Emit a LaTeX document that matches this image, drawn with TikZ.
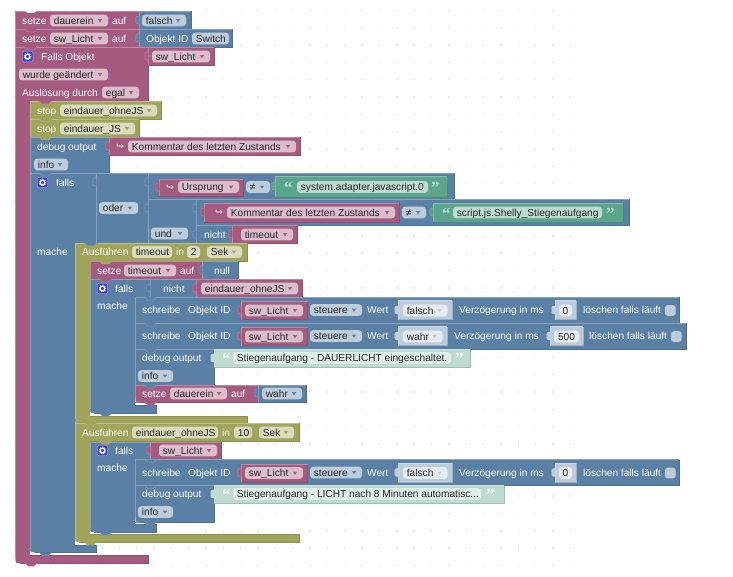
\documentclass[tikz,border=0pt]{standalone}
\usepackage{fontspec}
\setmainfont{Liberation Sans}
\newfontfamily\symf{DejaVu Sans}
\newfontfamily\quof{Liberation Serif}
\definecolor{mg}{HTML}{A55B80}
\definecolor{bl}{HTML}{5B80A5}
\definecolor{ol}{HTML}{A0A55B}
\definecolor{gr}{HTML}{5BA58C}
\definecolor{mgf}{HTML}{DBBDCC}
\definecolor{blf}{HTML}{BDCCDB}
\definecolor{olf}{HTML}{D9DBBD}
\definecolor{grf}{HTML}{BDDBD1}
\definecolor{shb}{HTML}{BDCCDB}
\definecolor{shbf}{HTML}{E6ECF2}
\definecolor{shg}{HTML}{BDDBD1}
\definecolor{shgf}{HTML}{E0EEE9}
\definecolor{ink}{HTML}{262626}
\definecolor{cogb}{HTML}{3A3FC8}
\definecolor{cogl}{HTML}{8F93E0}
\newcounter{nn}
\newcommand\blk[5]{%
  \fill[#1] (#2,#3) rectangle (#4,#5);
  \draw[#1!86!black,line width=.7] (#2,#5)--(#4,#5)--(#4,#3);
  \draw[#1!72!white,line width=.7] (#2,#5)--(#2,#3)--(#4,#3);}
% C-shaped block: #2,#3 top-left; #4 right of head; #5 head bottom; #6 spine right; #7 bar top; #8 bar right; #9 bottom
\newcommand\cblk[9]{%
  \fill[#1] (#2,#3)--(#4,#3)--(#4,#5)--(#6,#5)--(#6,#7)--(#8,#7)--(#8,#9)--({#2+4},#9) .. controls (#2,#9) .. (#2,{#9-4})--cycle;
  \draw[#1!86!black,line width=.7] ({#2+4},#9)--(#8,#9)--(#8,#7)--(#6,#7) (#6,#5)--(#4,#5)--(#4,#3);
  \draw[#1!72!white,line width=.7] (#2,{#9-4})--(#2,#3)--(#4,#3);}
\newcommand\nt[3]{%
  \fill[#1] ({#2+9.5},#3)--({#2+12.5},{#3+3})--({#2+18.5},{#3+3})--({#2+21.5},#3)--cycle;
  \draw[#1!80!white,line width=.5] ({#2+9.5},#3)--({#2+12.5},{#3+3})--({#2+18.5},{#3+3})--({#2+21.5},#3);}
\newcommand\wnt[2]{\fill[white] ({#1+9.5},#2)--({#1+12.5},{#2+2.5})--({#1+18.5},{#2+2.5})--({#1+21.5},#2)--cycle;}
\newcommand\rc[2]{\fill[white] (#1,{#2-5}) .. controls (#1,#2) .. ({#1+5},#2) -- (#1,#2) -- cycle;}
\newcommand\tabb[3]{%
  \filldraw[fill=#1,draw=#1!78!white,line width=.5,rounded corners=1] ({#2+.4},{#3-4})--({#2-3.2},{#3-3.5})--({#2-3.2},{#3+3.5})--({#2+.4},{#3+4});}
\newcommand\txt[3]{\stepcounter{nn}\node[lab] (t\thenn) at (#1,{#2+3.8}) {#3};}
\newcommand\fld[5]{% x1 x2 cy fillcolor text
  \stepcounter{nn}\fill[#4,rounded corners=3] (#1,{#3-5.8}) rectangle (#2,{#3+5.8});
  \node[lab,text=ink] (f\thenn) at ({#1+3.7},{#3+3.8}) {#5};}
\newcommand\ddf[5]{% x1 x2 cy base text
  \fld{#1}{#2}{#3}{#4f}{#5}%
  \fill[#4] ({#2-10.2},{#3-1.4})--({#2-5.8},{#3-1.4})--({#2-8},{#3+1.8})--cycle;}
\newcommand\sdd[4]{% shadow blue dropdown
  \fld{#1}{#2}{#3}{shbf}{#4}%
  \fill[shb] ({#2-10.2},{#3-1.4})--({#2-5.8},{#3-1.4})--({#2-8},{#3+1.8})--cycle;}
\newcommand\cog[2]{%
  \filldraw[fill=cogb,draw=cogl,line width=.7,rounded corners=2] (#1,{#2-5.3}) rectangle ({#1+10.6},{#2+5.3});
  \draw[white,line width=1.1] ({#1+5.3},#2) circle (2.3);
  \draw[white,line width=.9,dash pattern=on .9pt off .9pt] ({#1+5.3},#2) circle (3.3);}
\newcommand\oq[3]{\stepcounter{nn}\node[lab,text=#3,font=\quof\bfseries\fontsize{17}{17}\selectfont] (q\thenn) at (#1,{#2+7.3}) {“};}
\newcommand\cq[3]{\stepcounter{nn}\node[lab,text=#3,font=\quof\bfseries\fontsize{17}{17}\selectfont] (q\thenn) at (#1,{#2+7.3}) {”};}
\newcommand\arr[2]{\stepcounter{nn}\node[lab,font=\symf\fontsize{9.5}{10}\selectfont] (a\thenn) at (#1,{#2+3.4}) {↪};}
\newcommand\chk[2]{\fill[shb,rounded corners=2.5] (#1,{#2-5.3}) rectangle ({#1+10.6},{#2+5.3});}
% #1 top #2 cy #3 right #4 value #5 value-end #6 verz-x #7 numL #8 numR #9 number
\newcommand\schreibe[9]{%
  \pgfmathsetmacro\rb{#1+26}\pgfmathsetmacro\ua{#2-8.5}\pgfmathsetmacro\ub{#2+9.5}%
  \pgfmathsetmacro\va{#2-9.5}\pgfmathsetmacro\yf{#2+.5}\pgfmathsetmacro\vx{#5-4.5}%
  \blk{bl}{135}{#1}{#3}{\rb}
  \txt{142}{#2}{schreibe}\txt{188}{#2}{Objekt ID}
  \blk{mg}{241}{\ua}{307.5}{\ub}\tabb{mg}{241}{#2}
  \ddf{245}{303}{\yf}{mg}{sw\_Licht}
  \ddf{310}{362}{#2}{bl}{steuere}
  \txt{367}{#2}{Wert}
  \blk{shb}{398}{\va}{#5}{\ub}\tabb{shb}{398}{#2}
  \sdd{403}{\vx}{\yf}{#4}
  \txt{#6}{#2}{Verzögerung in ms}
  \blk{shb}{#7}{\va}{#8}{\ub}\tabb{shb}{#7}{#2}
  \fill[shbf,rounded corners=3] ({#7+4},{#2-5.5}) rectangle ({#8-4},{#2+6.3});
  \stepcounter{nn}\node[lab,text=ink,anchor=base] (n\thenn) at ({(#7+#8)/2},{#2+4.3}) {#9};}
\tikzset{lab/.style={anchor=base west,inner sep=0pt,text=white,font=\fontsize{10.15}{12}\selectfont}}
\begin{document}
\begin{tikzpicture}[x=1pt,y=-1pt]
\useasboundingbox (0,0) rectangle (733,577);
\fill[white] (0,0) rectangle (733,577);
% grid of dots
\foreach \i in {0,...,32}{\foreach \j in {0,...,32}{
  \fill[black!11] ({15.1+17.35*\i-.7},{10.3+17.35*\j-.7}) rectangle ++(1.4,1.4);}}
% --- top rows
\blk{mg}{15.5}{11}{139}{29}
\wnt{15.5}{10.5}
\txt{22}{20.5}{setze}\ddf{50}{108}{20.5}{mg}{dauerein}\txt{112}{20.5}{auf}
\blk{bl}{139}{11}{191}{29}\tabb{bl}{139}{20}
\ddf{142}{186}{20.5}{bl}{falsch}
\blk{mg}{15.5}{29}{139}{47}\nt{mg}{15.5}{29}
\txt{22}{38.5}{setze}\ddf{50}{108}{38.5}{mg}{sw\_Licht}\txt{112}{38.5}{auf}
\blk{bl}{139}{29}{232}{47}\tabb{bl}{139}{38}
\txt{146}{38.5}{Objekt ID}\fld{192}{229}{38.5}{blf}{Switch}
% --- Falls Objekt hat
\cblk{mg}{15.5}{47}{148}{101}{30}{555.5}{148.5}{563}
\nt{mg}{15.5}{47}\nt{mg}{15.5}{563}
\cog{22.3}{56.5}\txt{41}{56.5}{Falls Objekt}
\blk{mg}{148}{47}{214}{65}\tabb{mg}{148}{56}
\ddf{152}{210}{56.5}{mg}{sw\_Licht}
\ddf{19}{108}{74.5}{mg}{wurde geändert}
\txt{22}{92.5}{Auslösung durch}\ddf{102}{139}{92.5}{mg}{egal}
% --- stops
\blk{ol}{30}{101}{161}{119}\nt{mg}{30}{101}
\txt{37}{110.5}{stop}\ddf{60}{157}{110.5}{ol}{eindauer\_ohneJS}
\blk{ol}{30}{119}{139}{137}\nt{ol}{30}{119}
\txt{37}{128.5}{stop}\ddf{60}{135}{128.5}{ol}{eindauer\_JS}
% --- debug
\blk{bl}{30}{137}{109}{173}\nt{ol}{30}{137}
\txt{37}{146.5}{debug output}\ddf{34}{68}{164.5}{bl}{info}
\blk{mg}{109}{137}{300}{155}\tabb{mg}{109}{146}
\arr{116}{146.5}\ddf{128}{296}{146.5}{mg}{Kommentar des letzten Zustands}
% --- big falls
\cblk{bl}{30}{173}{96}{243}{75}{545.5}{96}{552.5}
\nt{bl}{30}{173}\nt{bl}{30}{552.5}\rc{30}{552.5}
\cog{37.2}{182.5}\txt{56}{182.5}{falls}\txt{37}{252}{mache}
% oder
\blk{bl}{96}{173}{148}{243}\tabb{bl}{96}{182}
\ddf{99}{138}{208}{bl}{oder}
\blk{bl}{148}{173}{454}{199}\tabb{bl}{148}{182}
\blk{mg}{159}{179}{243}{196}\tabb{mg}{159}{187}
\arr{166}{187.5}\ddf{178}{239}{187}{mg}{Ursprung}
\ddf{246}{270}{187}{bl}{≠}
\blk{gr}{275}{176}{447}{197}\tabb{gr}{275}{186}
\oq{284}{186.5}{shg}\fld{297}{428}{187}{grf}{system.adapter.javascript.0}\cq{431}{186.5}{shg}
\blk{bl}{148}{199}{196}{243}\tabb{bl}{148}{208}
\ddf{151}{188}{233.5}{bl}{und}
\blk{bl}{196}{199}{629}{225}\tabb{bl}{196}{208}
\blk{mg}{204}{203}{399}{222}\tabb{mg}{204}{212}
\arr{215}{212.5}\ddf{227}{395}{212.5}{mg}{Kommentar des letzten Zustands}
\ddf{402}{426}{212.5}{bl}{≠}
\blk{gr}{433}{203}{623}{222}\tabb{gr}{433}{212}
\oq{442}{212}{shg}\fld{453}{602}{212.5}{grf}{script.js.Shelly\_Stiegenaufgang}\cq{606}{212}{shg}
\blk{bl}{196}{225}{232}{243}\tabb{bl}{196}{234}
\txt{204}{234.5}{nicht}
\blk{mg}{232}{225.5}{297}{243}\tabb{mg}{232}{234}
\ddf{241}{293}{234.5}{mg}{timeout}
% --- Ausführen 1
\cblk{ol}{75}{243}{247}{261}{90}{416}{247}{423}
\nt{bl}{75}{243}
\txt{82}{252}{Ausführen}\fld{132}{172}{252}{olf}{timeout}\txt{176}{252}{in}\fld{187}{200}{252}{olf}{2}
\ddf{207}{242}{252}{ol}{Sek}
\blk{mg}{90}{261}{202}{279}\nt{ol}{90}{261}
\txt{97}{271}{setze}\ddf{124}{176}{270.5}{mg}{timeout}\txt{180}{271}{auf}
\blk{bl}{202}{261.5}{238}{279}\tabb{bl}{202}{270}\txt{214}{271}{null}
% inner falls 1
\cblk{bl}{90}{279}{196}{297}{135}{405}{156}{413}
\nt{mg}{90}{279}\nt{bl}{90}{413}\rc{90}{413}
\cog{97.2}{288.5}\txt{115}{288.5}{falls}\txt{97}{306}{mache}
\draw[bl!72!white,line width=.7] (150,279)--(150,297);\tabb{bl}{150}{288}
\txt{163}{288.5}{nicht}
\blk{mg}{196}{279.5}{302.5}{297}\tabb{mg}{196}{288}
\ddf{201}{298}{288.5}{mg}{eindauer\_ohneJS}
\schreibe{297}{310}{679}{falsch}{452}{459}{555}{576}{0}
\txt{583}{310}{löschen falls läuft}\chk{665}{310.5}
\nt{bl}{135}{297}
\schreibe{323}{336}{686}{wahr}{447}{454}{550}{583}{500}
\txt{589}{336}{löschen falls läuft}\chk{671}{336.5}
\nt{bl}{135}{323}
\blk{bl}{135}{349}{214}{385}\nt{bl}{135}{349}
\txt{142}{358}{debug output}\ddf{138}{173}{376}{bl}{info}
\blk{shg}{214}{349}{470}{367}\tabb{shg}{214}{358}
\oq{222}{357.5}{white}\fld{233}{451}{358}{shgf}{Stiegenaufgang - DAUERLICHT eingeschaltet.}\cq{455}{357.5}{white}
\blk{mg}{135}{385}{258}{402}\nt{bl}{135}{385}
\txt{142}{394}{setze}\ddf{170}{227}{393.5}{mg}{dauerein}\txt{231}{394}{auf}
\blk{bl}{258}{385}{306}{402}\tabb{bl}{258}{393}
\ddf{262}{302}{393.5}{bl}{wahr}
\nt{mg}{135}{402}\rc{135}{402}
% --- Ausführen 2
\cblk{ol}{75}{423}{299}{441}{90}{534.5}{299}{542}
\nt{ol}{75}{423}\nt{ol}{75}{542}\rc{75}{542}
\txt{82}{432.5}{Ausführen}\fld{132}{218}{432.5}{olf}{eindauer\_ohneJS}\txt{222}{432.5}{in}\fld{234}{252}{432.5}{olf}{10}
\ddf{259}{294}{432.5}{ol}{Sek}
\cblk{bl}{90}{442}{150}{459}{135}{524.5}{156}{532}
\nt{ol}{90}{441}\nt{bl}{90}{532}\rc{90}{532}
\cog{97.2}{450.5}\txt{115}{450.5}{falls}\txt{97}{468}{mache}
\blk{mg}{150}{442}{221}{459}\tabb{mg}{150}{450}
\ddf{159}{217}{450.5}{mg}{sw\_Licht}
\schreibe{459.5}{472.5}{679}{falsch}{452}{459}{555}{576}{0}
\txt{583}{472.5}{löschen falls läuft}\chk{665}{473}
\nt{bl}{135}{459.5}
\blk{bl}{135}{485.5}{214}{522}\nt{bl}{135}{485.5}
\txt{142}{494}{debug output}\ddf{138}{173}{512}{bl}{info}
\blk{shg}{214}{485.5}{504}{503}\tabb{shg}{214}{494}
\oq{222}{493.5}{white}\fld{233}{481}{494}{shgf}{Stiegenaufgang - LICHT nach 8 Minuten automatisc...}\cq{486}{493.5}{white}
\nt{bl}{135}{522}\rc{135}{522}
\end{tikzpicture}
\end{document}
